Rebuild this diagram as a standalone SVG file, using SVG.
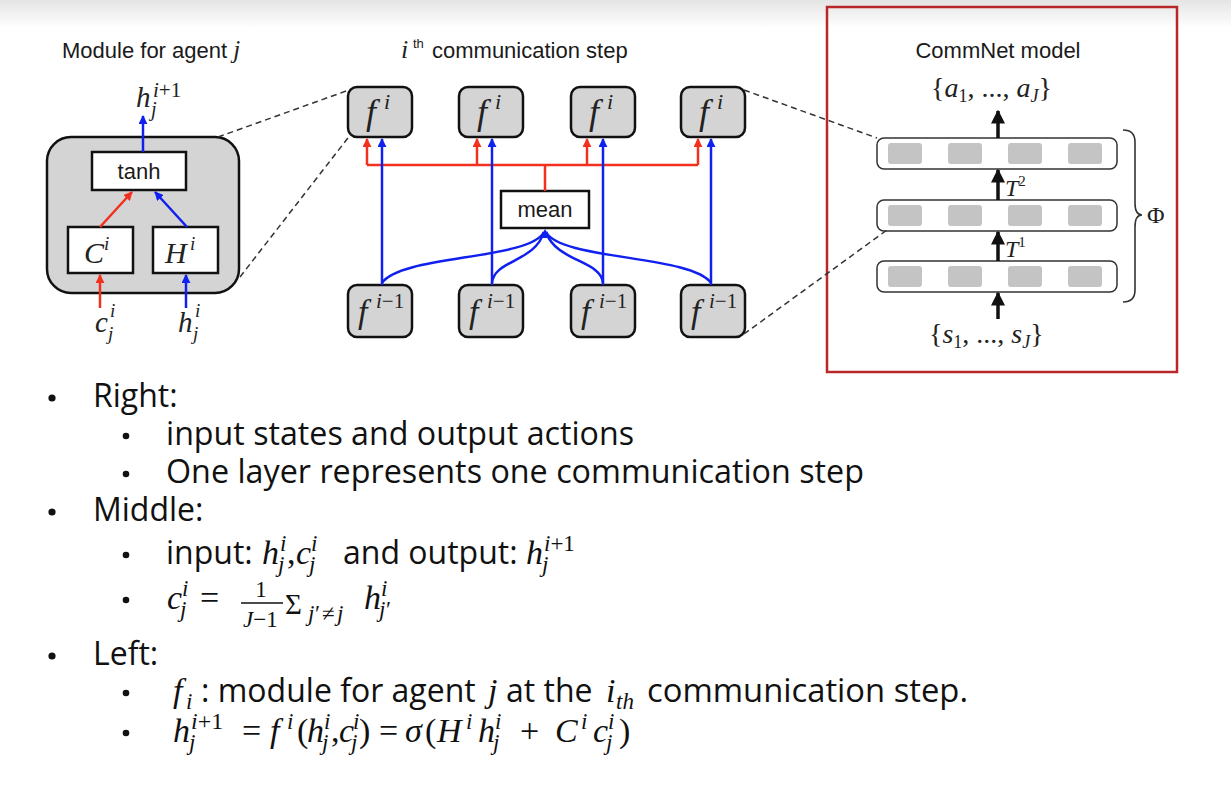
<svg xmlns="http://www.w3.org/2000/svg" width="1231" height="787" viewBox="0 0 1231 787">
<defs>
<linearGradient id="topg" x1="0" y1="0" x2="0" y2="1"><stop offset="0" stop-color="#e4e4e4"/><stop offset="1" stop-color="#ffffff"/></linearGradient>
<marker id="ar" viewBox="0 0 10 10" refX="9" refY="5" markerWidth="9" markerHeight="9" markerUnits="userSpaceOnUse" orient="auto"><path d="M0,0 L10,5 L0,10 z" fill="#f2301e"/></marker>
<marker id="ab" viewBox="0 0 10 10" refX="9" refY="5" markerWidth="9" markerHeight="9" markerUnits="userSpaceOnUse" orient="auto"><path d="M0,0 L10,5 L0,10 z" fill="#1020ee"/></marker>
<marker id="ak" viewBox="0 0 10 10" refX="9" refY="5" markerWidth="14" markerHeight="14" markerUnits="userSpaceOnUse" orient="auto"><path d="M0,0 L10,5 L0,10 z" fill="#111"/></marker>
</defs>
<style>
.d{font-family:"Liberation Sans",Arial,sans-serif;font-size:22px;fill:#1a1a1a}
.mi{font-family:"Liberation Serif","Times New Roman",serif;font-style:italic;fill:#222}
.mu{font-family:"Liberation Serif","Times New Roman",serif;font-style:normal;fill:#222}
.gbox{fill:#d4d4d4;stroke:#111;stroke-width:2.5}
.wbox{fill:#fff;stroke:#111;stroke-width:2.5}
.red{stroke:#f2301e;stroke-width:2.5;fill:none}
.blue{stroke:#1020ee;stroke-width:2.5;fill:none}
.dash{stroke:#333;stroke-width:1.5;stroke-dasharray:6 4;fill:none}
.layer{fill:#fff;stroke:#333;stroke-width:1.5}
.cell{fill:#c4c4c4}
.karr{stroke:#111;stroke-width:3.5;fill:none}
.b{font-family:"Open Sans","Noto Sans",sans-serif;font-size:32px;fill:#111}
.m{font-family:"Liberation Serif","Times New Roman",serif;font-style:italic;font-size:34px;fill:#111}
.u{font-family:"Liberation Serif","Times New Roman",serif;font-style:normal;font-size:34px;fill:#111}
.ms{font-family:"Liberation Serif","Times New Roman",serif;font-style:italic;font-size:23px;fill:#111}
.us{font-family:"Liberation Serif","Times New Roman",serif;font-style:normal;font-size:23px;fill:#111}
.dot{fill:#111}
</style>
<rect x="0" y="0" width="1231" height="787" fill="#fff"/>
<rect x="0" y="0" width="1231" height="28" fill="url(#topg)"/>

<g id="module">
<text class="d" x="62" y="58">Module for agent <tspan class="mi" style="font-size:25px">j</tspan></text>
<rect class="gbox" x="47" y="137" width="192" height="156" rx="24"/>
<g id="tanh"><rect class="wbox" x="92" y="152" width="94" height="38"/><text class="d" x="139" y="179" text-anchor="middle">tanh</text></g>
<g id="Cbox"><rect class="wbox" x="68" y="227" width="65" height="46"/><text class="mi" x="84" y="263" style="font-size:30px">C</text><text class="mi" x="104" y="250" style="font-size:19px">i</text></g>
<g id="Hbox"><rect class="wbox" x="153" y="227" width="65" height="46"/><text class="mi" x="165" y="263" style="font-size:30px">H</text><text class="mi" x="190" y="250" style="font-size:19px">i</text></g>
<text class="mi" x="136" y="107" style="font-size:29px">h</text>
<text class="mi" x="153" y="97" style="font-size:21px">i<tspan class="mu">+1</tspan></text>
<text class="mi" x="151" y="116" style="font-size:20px">j</text>
<text class="mi" x="95" y="332" style="font-size:29px">c</text>
<text class="mi" x="110" y="317" style="font-size:19px">i</text>
<text class="mi" x="108" y="340" style="font-size:19px">j</text>
<text class="mi" x="178" y="332" style="font-size:29px">h</text>
<text class="mi" x="195" y="317" style="font-size:19px">i</text>
<text class="mi" x="193" y="340" style="font-size:19px">j</text>
</g>

<g id="step-title">
<text class="mi" x="401" y="58" style="font-size:26px">i</text>
<text class="d" x="413" y="48" style="font-size:13px">th</text>
<text class="d" x="432" y="58">communication step</text>
</g>

<g id="f-top-1"><rect class="gbox" x="348" y="87" width="64" height="50" rx="9"/><text class="mi" x="366" y="124" style="font-size:36px">f</text><text class="mi" x="384" y="109" style="font-size:22px">i</text></g>
<g id="f-top-2"><rect class="gbox" x="459" y="87" width="64" height="50" rx="9"/><text class="mi" x="477" y="124" style="font-size:36px">f</text><text class="mi" x="495" y="109" style="font-size:22px">i</text></g>
<g id="f-top-3"><rect class="gbox" x="571" y="87" width="64" height="50" rx="9"/><text class="mi" x="589" y="124" style="font-size:36px">f</text><text class="mi" x="607" y="109" style="font-size:22px">i</text></g>
<g id="f-top-4"><rect class="gbox" x="681" y="87" width="64" height="50" rx="9"/><text class="mi" x="699" y="124" style="font-size:36px">f</text><text class="mi" x="717" y="109" style="font-size:22px">i</text></g>

<g id="f-bot-1"><rect class="gbox" x="348" y="285" width="64" height="52" rx="9"/><text class="mi" x="358" y="323" style="font-size:34px">f</text><text class="mi" x="376" y="308" style="font-size:21px">i<tspan class="mu">−1</tspan></text></g>
<g id="f-bot-2"><rect class="gbox" x="459" y="285" width="64" height="52" rx="9"/><text class="mi" x="469" y="323" style="font-size:34px">f</text><text class="mi" x="487" y="308" style="font-size:21px">i<tspan class="mu">−1</tspan></text></g>
<g id="f-bot-3"><rect class="gbox" x="571" y="285" width="64" height="52" rx="9"/><text class="mi" x="581" y="323" style="font-size:34px">f</text><text class="mi" x="599" y="308" style="font-size:21px">i<tspan class="mu">−1</tspan></text></g>
<g id="f-bot-4"><rect class="gbox" x="681" y="285" width="64" height="52" rx="9"/><text class="mi" x="691" y="323" style="font-size:34px">f</text><text class="mi" x="709" y="308" style="font-size:21px">i<tspan class="mu">−1</tspan></text></g>

<g id="mean"><rect class="wbox" x="501" y="191" width="88" height="37"/><text class="d" x="545" y="217" text-anchor="middle">mean</text></g>

<g id="commnet">
<rect x="827" y="7" width="350" height="365" fill="none" stroke="#b8282b" stroke-width="2.5"/>
<text class="d" x="998" y="58" text-anchor="middle">CommNet model</text>
<text class="mu" x="931" y="97" style="font-size:28px">{<tspan class="mi">a</tspan><tspan style="font-size:18px" dy="5">1</tspan><tspan dy="-5">, ..., </tspan><tspan class="mi">a</tspan><tspan class="mi" style="font-size:18px" dy="5">J</tspan><tspan dy="-5">}</tspan></text>
<g id="layer3"><rect class="layer" x="877" y="138" width="240" height="31" rx="7"/><rect class="cell" x="888" y="143" width="34" height="21" rx="3"/><rect class="cell" x="948" y="143" width="34" height="21" rx="3"/><rect class="cell" x="1008" y="143" width="34" height="21" rx="3"/><rect class="cell" x="1068" y="143" width="34" height="21" rx="3"/></g>
<g id="layer2"><rect class="layer" x="877" y="200" width="240" height="31" rx="7"/><rect class="cell" x="888" y="205" width="34" height="21" rx="3"/><rect class="cell" x="948" y="205" width="34" height="21" rx="3"/><rect class="cell" x="1008" y="205" width="34" height="21" rx="3"/><rect class="cell" x="1068" y="205" width="34" height="21" rx="3"/></g>
<g id="layer1"><rect class="layer" x="877" y="261" width="240" height="31" rx="7"/><rect class="cell" x="888" y="266" width="34" height="21" rx="3"/><rect class="cell" x="948" y="266" width="34" height="21" rx="3"/><rect class="cell" x="1008" y="266" width="34" height="21" rx="3"/><rect class="cell" x="1068" y="266" width="34" height="21" rx="3"/></g>
<text class="mi" x="1005" y="196" style="font-size:24px">T<tspan class="mu" style="font-size:15px" dy="-10">2</tspan></text>
<text class="mi" x="1005" y="257" style="font-size:24px">T<tspan class="mu" style="font-size:15px" dy="-10">1</tspan></text>
<text class="mu" x="929" y="343" style="font-size:28px">{<tspan class="mi">s</tspan><tspan style="font-size:18px" dy="5">1</tspan><tspan dy="-5">, ..., </tspan><tspan class="mi">s</tspan><tspan class="mi" style="font-size:18px" dy="5">J</tspan><tspan dy="-5">}</tspan></text>
<path d="M1123,130 Q1135,130 1135,142 L1135,203 Q1135,215 1142,215 Q1135,215 1135,227 L1135,290 Q1135,302 1123,302" fill="none" stroke="#333" stroke-width="1.6"/>
<text class="mu" x="1147" y="223" style="font-size:24px">Φ</text>
</g>

<g id="connectors">
<line class="blue" x1="143" y1="152" x2="143" y2="116" marker-end="url(#ab)"/>
<line class="red" x1="100" y1="227" x2="132" y2="192" marker-end="url(#ar)"/>
<line class="blue" x1="187" y1="227" x2="155" y2="192" marker-end="url(#ab)"/>
<line class="red" x1="100" y1="308" x2="100" y2="275" marker-end="url(#ar)"/>
<line class="blue" x1="186" y1="308" x2="186" y2="275" marker-end="url(#ab)"/>

<line class="dash" x1="218" y1="137" x2="349" y2="90"/>
<line class="dash" x1="240" y1="277" x2="351" y2="134"/>
<line class="dash" x1="744" y1="90" x2="877" y2="138"/>
<line class="dash" x1="744" y1="334" x2="887" y2="230"/>

<path class="red" d="M367,165 L698,165 M545,191 L545,165"/>
<line class="red" x1="367" y1="165" x2="367" y2="139" marker-end="url(#ar)"/>
<line class="red" x1="477" y1="165" x2="477" y2="139" marker-end="url(#ar)"/>
<line class="red" x1="587" y1="165" x2="587" y2="139" marker-end="url(#ar)"/>
<line class="red" x1="698" y1="165" x2="698" y2="139" marker-end="url(#ar)"/>

<line class="blue" x1="382" y1="285" x2="382" y2="139" marker-end="url(#ab)"/>
<line class="blue" x1="492" y1="285" x2="492" y2="139" marker-end="url(#ab)"/>
<line class="blue" x1="603" y1="285" x2="603" y2="139" marker-end="url(#ab)"/>
<line class="blue" x1="711" y1="285" x2="711" y2="139" marker-end="url(#ab)"/>

<path class="blue" d="M382,283 C400,255 530,260 544,232"/>
<path class="blue" d="M492,283 C494,260 535,262 544,232"/>
<path class="blue" d="M603,283 C601,260 556,262 546,232"/>
<path class="blue" d="M711,283 C692,255 560,260 546,232"/>
<polygon points="545,229 540,238 550,238" fill="#1020ee"/>

<line class="karr" x1="998" y1="138" x2="998" y2="111" marker-end="url(#ak)"/>
<line class="karr" x1="998" y1="200" x2="998" y2="170" marker-end="url(#ak)"/>
<line class="karr" x1="998" y1="261" x2="998" y2="232" marker-end="url(#ak)"/>
<line class="karr" x1="998" y1="319" x2="998" y2="293" marker-end="url(#ak)"/>
</g>

<g id="bullets">
<circle class="dot" cx="52" cy="398" r="3.6"/>
<text class="b" x="93" y="407">Right:</text>
<circle class="dot" cx="126" cy="436" r="3.3"/>
<text class="b" x="166" y="445" textLength="468" lengthAdjust="spacingAndGlyphs">input states and output actions</text>
<circle class="dot" cx="126" cy="474" r="3.3"/>
<text class="b" x="166" y="483" textLength="698" lengthAdjust="spacingAndGlyphs">One layer represents one communication step</text>
<circle class="dot" cx="52" cy="512" r="3.6"/>
<text class="b" x="93" y="521">Middle:</text>

<circle class="dot" cx="126" cy="555" r="3.3"/>
<text class="b" x="166" y="564">input:</text>
<text class="m" x="262" y="564">h</text><text class="ms" x="280" y="551">i</text><text class="ms" x="278" y="572">j</text>
<text class="u" x="287" y="564">,</text>
<text class="m" x="296" y="564">c</text><text class="ms" x="311" y="551">i</text><text class="ms" x="309" y="572">j</text>
<text class="b" x="343" y="564">and output:</text>
<text class="m" x="526" y="564">h</text><text class="ms" x="544" y="551">i<tspan class="us">+1</tspan></text><text class="ms" x="542" y="572">j</text>

<circle class="dot" cx="126" cy="600" r="3.3"/>
<text class="m" x="167" y="609">c</text><text class="ms" x="182" y="596">i</text><text class="ms" x="180" y="617">j</text>
<text class="u" x="200" y="609">=</text>
<text class="us" x="261" y="597" text-anchor="middle">1</text>
<line x1="241" y1="603" x2="283" y2="603" stroke="#111" stroke-width="1.3"/>
<text class="ms" x="243" y="627">J<tspan class="us">−1</tspan></text>
<text class="u" x="285" y="614" style="font-size:29px">Σ</text>
<text class="ms" x="308" y="621">j</text><text class="us" x="315" y="621">′</text><text class="us" x="322" y="621">≠</text><text class="ms" x="337" y="621">j</text>
<text class="m" x="364" y="609">h</text><text class="ms" x="381" y="596">i</text><text class="ms" x="379" y="617">j</text><text class="us" x="386" y="617">′</text>

<circle class="dot" cx="52" cy="656" r="3.6"/>
<text class="b" x="93" y="665">Left:</text>

<circle class="dot" cx="126" cy="693" r="3.3"/>
<text class="m" x="173" y="702">f</text><text class="ms" x="186" y="709">i</text>
<text class="b" x="201" y="702">: module for agent</text>
<text class="m" x="488" y="702">j</text>
<text class="b" x="506" y="702">at the</text>
<text class="m" x="606" y="702">i</text><text class="ms" x="616" y="709">th</text>
<text class="b" x="647" y="702" textLength="321" lengthAdjust="spacingAndGlyphs">communication step.</text>

<circle class="dot" cx="126" cy="733" r="3.3"/>
<text class="m" x="173" y="742">h</text><text class="ms" x="191" y="729" style="font-size:24px">i<tspan class="us" style="font-size:24px">+1</tspan></text><text class="ms" x="189" y="750">j</text>
<text class="u" x="242" y="742">=</text>
<text class="m" x="270" y="742">f</text><text class="ms" x="287" y="729">i</text>
<text class="u" x="297" y="742">(</text>
<text class="m" x="307" y="742">h</text><text class="ms" x="324" y="729">i</text><text class="ms" x="322" y="750">j</text>
<text class="u" x="331" y="742">,</text>
<text class="m" x="339" y="742">c</text><text class="ms" x="353" y="729">i</text><text class="ms" x="351" y="750">j</text>
<text class="u" x="359" y="742">)</text>
<text class="u" x="379" y="742">=</text>
<text class="m" x="405" y="742">σ</text>
<text class="u" x="425" y="742">(</text>
<text class="m" x="437" y="742">H</text><text class="ms" x="466" y="729">i</text>
<text class="m" x="478" y="742">h</text><text class="ms" x="495" y="729">i</text><text class="ms" x="493" y="750">j</text>
<text class="u" x="520" y="742">+</text>
<text class="m" x="555" y="742">C</text><text class="ms" x="581" y="729">i</text>
<text class="m" x="593" y="742">c</text><text class="ms" x="608" y="729">i</text><text class="ms" x="606" y="750">j</text>
<text class="u" x="619" y="742">)</text>
</g>
</svg>
